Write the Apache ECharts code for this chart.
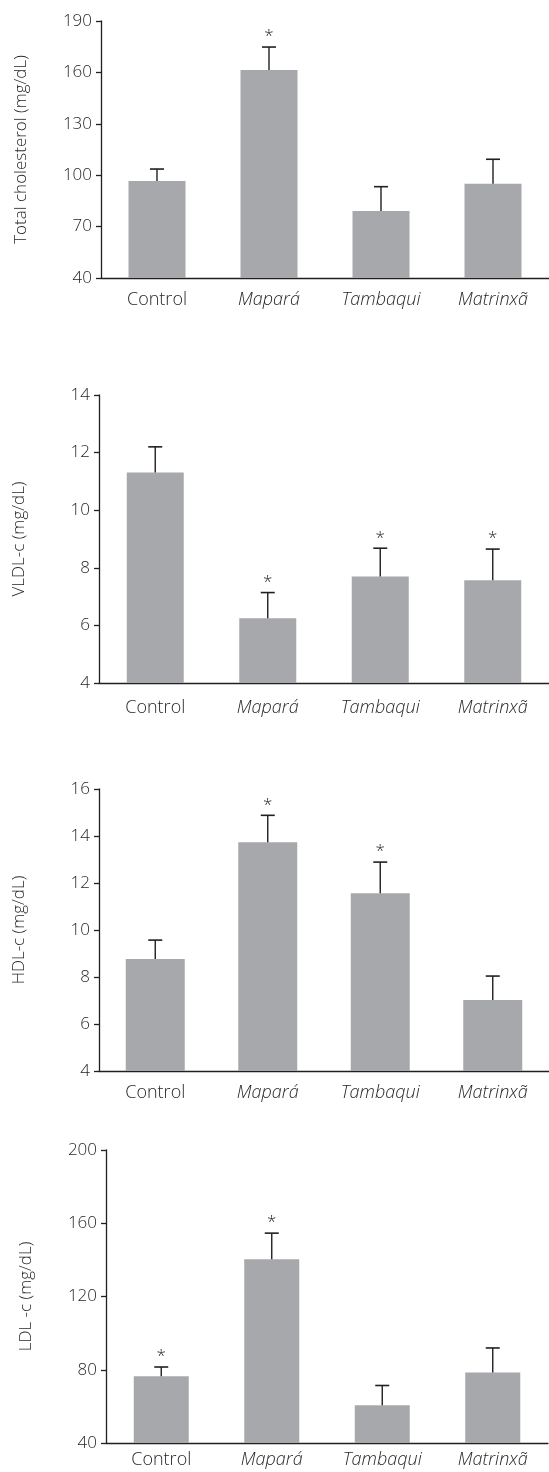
<!DOCTYPE html>
<html>
<head>
<meta charset="utf-8">
<script src="https://cdn.jsdelivr.net/npm/echarts@6/dist/echarts.min.js"></script>
<style>
html,body{margin:0;padding:0;background:#fff;}
#chart{width:549px;height:1472px;}
</style>
</head>
<body>
<div id="chart"></div>
<script>
const categories = ['Control', 'Mapará', 'Tambaqui', 'Matrinxã'];

const tcMean = [96.6, 161.4, 79.1, 95.0];
const tcSD   = [7.0, 13.4, 14.2, 14.3];
const tcSig  = [0, 1, 0, 0];

const vldlMean = [11.31, 6.25, 7.70, 7.57];
const vldlSD   = [0.89, 0.89, 0.98, 1.08];
const vldlSig  = [0, 1, 1, 1];

const hdlMean = [8.77, 13.73, 11.56, 7.02];
const hdlSD   = [0.80, 1.15, 1.33, 1.02];
const hdlSig  = [0, 1, 1, 0];

const ldlMean = [76.5, 140.3, 60.6, 78.5];
const ldlSD   = [5.0, 14.3, 10.8, 13.4];
const ldlSig  = [1, 1, 0, 0];

const panels = [
  {name: 'Total cholesterol (mg/dL)', mean: tcMean, sd: tcSD, sig: tcSig, min: 40, max: 190, interval: 30,
   grid: {left: 101, top: 21, width: 451, height: 257}, barWidth: 57, labelMargin: 13},
  {name: 'VLDL-c (mg/dL)', mean: vldlMean, sd: vldlSD, sig: vldlSig, min: 4, max: 14, interval: 2,
   grid: {left: 99, top: 395, width: 451, height: 288}, barWidth: 57, labelMargin: 16},
  {name: 'HDL-c (mg/dL)', mean: hdlMean, sd: hdlSD, sig: hdlSig, min: 4, max: 16, interval: 2,
   grid: {left: 99, top: 789, width: 450, height: 282}, barWidth: 59, labelMargin: 13},
  {name: 'LDL -c (mg/dL)', mean: ldlMean, sd: ldlSD, sig: ldlSig, min: 40, max: 200, interval: 40,
   grid: {left: 106, top: 1150, width: 442, height: 293}, barWidth: 55, labelMargin: 8}
];

const FONT = '"Open Sans", "Noto Sans", sans-serif';
const INK = '#231f20';
const BAR = '#a7a8ab';

const grid = [], xAxis = [], yAxis = [], series = [];
panels.forEach((p, i) => {
  grid.push(Object.assign({containLabel: false}, p.grid));
  xAxis.push({
    type: 'category', gridIndex: i, data: categories, boundaryGap: true,
    axisLine: {lineStyle: {color: INK, width: 1.3}},
    axisTick: {show: false},
    axisLabel: {
      interval: 0, margin: p.labelMargin, color: INK, fontFamily: FONT, fontSize: 18, fontWeight: 300,
      formatter: v => v === 'Control' ? v : '{i|' + v + '}',
      rich: {i: {fontStyle: 'italic', fontFamily: FONT, fontSize: 18, fontWeight: 300, color: INK}}
    }
  });
  yAxis.push({
    type: 'value', gridIndex: i, min: p.min, max: p.max, interval: p.interval,
    name: p.name, nameLocation: 'middle', nameGap: 71,
    nameTextStyle: {color: INK, fontFamily: FONT, fontSize: 17, fontWeight: 300},
    axisLine: {show: true, lineStyle: {color: INK, width: 1.3}},
    axisTick: {show: true, inside: false, length: 5, lineStyle: {color: INK, width: 1.3}},
    axisLabel: {margin: 9, color: INK, fontFamily: FONT, fontSize: 17, fontWeight: 300},
    splitLine: {show: false}
  });
  series.push({
    type: 'bar', xAxisIndex: i, yAxisIndex: i, data: p.mean,
    barWidth: p.barWidth, itemStyle: {color: BAR}, silent: true, animation: false
  });
  series.push({
    type: 'custom', xAxisIndex: i, yAxisIndex: i, animation: false, silent: true, z: 5,
    data: p.mean.map((m, k) => [k, m, m + p.sd[k], p.sig[k]]),
    renderItem: (params, api) => {
      const base = api.coord([api.value(0), api.value(1)]);
      const top = api.coord([api.value(0), api.value(2)]);
      const half = 7;
      const children = [
        {type: 'line', shape: {x1: top[0], y1: base[1], x2: top[0], y2: top[1]},
         style: {stroke: INK, lineWidth: 1.4}},
        {type: 'line', shape: {x1: top[0] - half, y1: top[1], x2: top[0] + half, y2: top[1]},
         style: {stroke: INK, lineWidth: 1.6}}
      ];
      if (api.value(3)) {
        children.push({type: 'text', x: top[0], y: top[1] - 2,
          style: {text: '*', fill: INK, fontFamily: FONT, fontSize: 17, fontWeight: 300, align: 'center', verticalAlign: 'bottom'}});
      }
      return {type: 'group', children};
    }
  });
});

const chart = echarts.init(document.getElementById('chart'), null, {renderer: 'canvas'});
chart.setOption({animation: false, grid, xAxis, yAxis, series});
</script>
</body>
</html>
